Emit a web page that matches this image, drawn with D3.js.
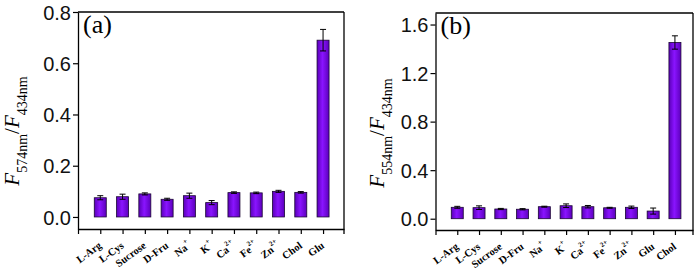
<!DOCTYPE html>
<html lang="en">
<head>
<meta charset="UTF-8">
<title>Selectivity bars</title>
<script src="https://d3js.org/d3.v7.min.js"></script>
<style>
  body { margin: 0; background: #fff; }
  svg { display: block; font-family: "Liberation Serif", "Times New Roman", serif; }
  .tick text { font-size: 20px; }
  .xlab { font-size: 10.5px; font-weight: bold; }
</style>
</head>
<body>
<div id="chart"></div>
<script>
// panel (a)
const catsA = ['L-Arg', 'L-Cys', 'Sucrose', 'D-Fru', 'Na+', 'K+', 'Ca2+', 'Fe2+', 'Zn2+', 'Chol', 'Glu'];
const valsA = [0.075, 0.079, 0.090, 0.069, 0.083, 0.056, 0.095, 0.094, 0.100, 0.096, 0.690];
const errsA = [0.008, 0.010, 0.004, 0.004, 0.010, 0.008, 0.003, 0.003, 0.004, 0.003, 0.042];
const ticksA = [0.0, 0.2, 0.4, 0.6, 0.8];

// panel (b)
const catsB = ['L-Arg', 'L-Cys', 'Sucrose', 'D-Fru', 'Na+', 'K+', 'Ca2+', 'Fe2+', 'Zn2+', 'Glu', 'Chol'];
const valsB = [0.094, 0.091, 0.080, 0.078, 0.099, 0.107, 0.099, 0.090, 0.094, 0.063, 1.452];
const errsB = [0.008, 0.015, 0.005, 0.005, 0.004, 0.015, 0.010, 0.004, 0.010, 0.025, 0.055];
const ticksB = [0.0, 0.4, 0.8, 1.2, 1.6];

const svg = d3.select('#chart').append('svg')
    .attr('width', 700)
    .attr('height', 276);

const grad = svg.append('defs').append('linearGradient')
    .attr('id', 'barGrad').attr('x1', 0).attr('x2', 1).attr('y1', 0).attr('y2', 0);
grad.append('stop').attr('offset', '0%').attr('stop-color', '#5a00b8');
grad.append('stop').attr('offset', '45%').attr('stop-color', '#8a14ff');
grad.append('stop').attr('offset', '100%').attr('stop-color', '#5c00bc');

drawPanel({
    cats: catsA, vals: valsA, errs: errsA, ticks: ticksA,
    left: 78, right: 344, top: 12, bottom: 229,
    yDomain: [-0.047, 0.8], xMax: 11.94,
    tag: '(a)', sub1: '574nm', labelX: 19, labelY: 131
});

drawPanel({
    cats: catsB, vals: valsB, errs: errsB, ticks: ticksB,
    left: 435.5, right: 693, top: 13, bottom: 230,
    yDomain: [-0.093, 1.695], xMax: 11.83,
    tag: '(b)', sub1: '554nm', labelX: 384, labelY: 133
});

function drawPanel(p) {
    const g = svg.append('g');
    const x = d3.scaleLinear().domain([0, p.xMax]).range([p.left, p.right]);
    const y = d3.scaleLinear().domain(p.yDomain).range([p.bottom, p.top]);
    const barW = 12;

    // bars
    g.selectAll('.bar')
        .data(p.vals)
        .enter()
        .append('rect')
        .attr('class', 'bar')
        .attr('x', (d, i) => x(i + 1) - barW / 2)
        .attr('y', d => y(d))
        .attr('width', barW)
        .attr('height', d => y(0) - y(d))
        .attr('fill', 'url(#barGrad)')
        .attr('stroke', '#1a0633')
        .attr('stroke-width', 0.8);

    // error bars
    const eb = g.selectAll('.err')
        .data(p.vals)
        .enter()
        .append('g')
        .attr('class', 'err')
        .attr('stroke', '#000')
        .attr('stroke-width', 1);
    eb.append('line')
        .attr('x1', (d, i) => x(i + 1)).attr('x2', (d, i) => x(i + 1))
        .attr('y1', (d, i) => y(d - p.errs[i])).attr('y2', (d, i) => y(d + p.errs[i]));
    eb.append('line')
        .attr('x1', (d, i) => x(i + 1) - 3).attr('x2', (d, i) => x(i + 1) + 3)
        .attr('y1', (d, i) => y(d + p.errs[i])).attr('y2', (d, i) => y(d + p.errs[i]));
    eb.append('line')
        .attr('x1', (d, i) => x(i + 1) - 3).attr('x2', (d, i) => x(i + 1) + 3)
        .attr('y1', (d, i) => y(d - p.errs[i])).attr('y2', (d, i) => y(d - p.errs[i]));

    // left axis
    const ya = g.append('g')
        .attr('transform', `translate(${p.left},0)`)
        .call(d3.axisLeft(y).tickValues(p.ticks).tickFormat(d3.format('.1f')).tickSize(5).tickSizeOuter(0));
    ya.select('.domain').attr('stroke-width', 1.3);
    ya.selectAll('.tick line').attr('stroke-width', 1.2);
    ya.selectAll('.tick text').attr('x', -7).attr('dy', '0.36em').attr('fill', '#111');

    // bottom axis
    const xa = g.append('g')
        .attr('transform', `translate(0,${p.bottom})`)
        .call(d3.axisBottom(x).tickValues(d3.range(0, p.cats.length + 1)).tickSize(5).tickSizeOuter(0).tickFormat(''));
    xa.select('.domain').attr('stroke-width', 1.3);
    xa.selectAll('.tick line').attr('stroke-width', 1.2);

    // frame top and right
    g.append('line')
        .attr('x1', p.left).attr('x2', p.right).attr('y1', p.top).attr('y2', p.top)
        .attr('stroke', '#000').attr('stroke-width', 1.3);
    g.append('line')
        .attr('x1', p.right).attr('x2', p.right).attr('y1', p.top).attr('y2', p.bottom + 5)
        .attr('stroke', '#000').attr('stroke-width', 1.3);

    // category labels
    p.cats.forEach((c, i) => {
        const m = c.match(/^([A-Za-z]+)(\d?[+])$/);
        const t = g.append('text')
            .attr('class', 'xlab')
            .attr('text-anchor', 'end')
            .attr('transform', `translate(${x(i + 1) + 2},${p.bottom + 18}) rotate(-36)`);
        if (m) {
            t.append('tspan').text(m[1]);
            t.append('tspan').attr('dy', -6).attr('font-size', '7px').text(m[2]);
        } else {
            t.text(c);
        }
    });

    // panel tag
    g.append('text')
        .attr('x', p.left + 5)
        .attr('y', p.top + 21)
        .attr('font-size', '26px')
        .text(p.tag);

    // y label
    const lab = g.append('text')
        .attr('transform', `translate(${p.labelX},${p.labelY}) rotate(-90)`)
        .attr('text-anchor', 'middle');
    lab.append('tspan').attr('font-style', 'italic').attr('font-size', '21px').text('F');
    lab.append('tspan').attr('font-size', '14px').attr('dy', 8).text(p.sub1);
    lab.append('tspan').attr('font-size', '21px').attr('dy', -8).text('/');
    lab.append('tspan').attr('font-style', 'italic').attr('font-size', '21px').text('F');
    lab.append('tspan').attr('font-size', '14px').attr('dy', 8).text('434nm');
}
</script>
</body>
</html>
